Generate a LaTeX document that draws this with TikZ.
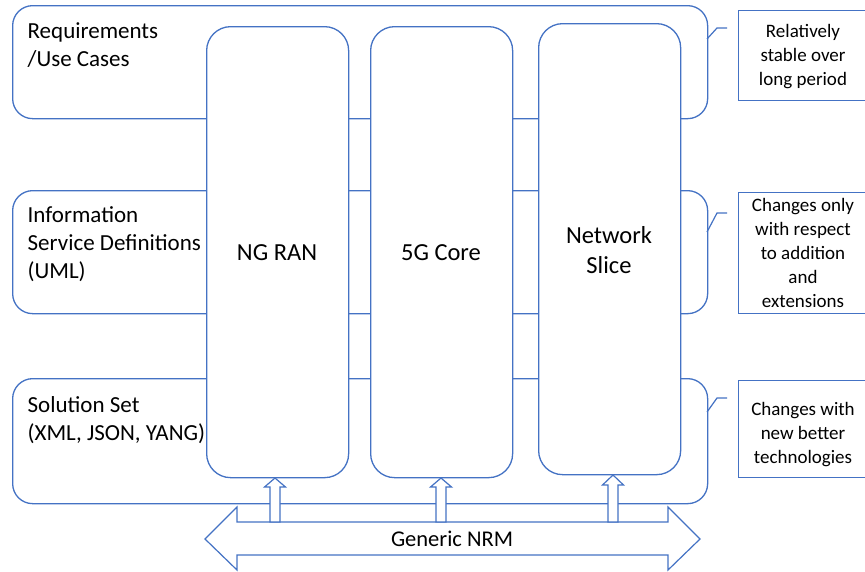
\documentclass[tikz,border=0pt]{standalone}
\usepackage{fontspec}
\setmainfont{Carlito}
\definecolor{ln}{HTML}{4472C4}
\begin{document}
\begin{tikzpicture}[x=1pt,y=-1pt,line width=1.3pt,
  layer/.style={draw=ln,rounded corners=20pt,inner sep=0pt,anchor=north west},
  col/.style={draw=ln,fill=white,rounded corners=24pt,inner sep=0pt,anchor=north west},
  rbox/.style={draw=ln,fill=white,inner sep=0pt,anchor=north west},
  ltext/.style={anchor=north west,inner sep=0pt,align=left,font=\fontsize{23}{28}\selectfont},
  ctext/.style={inner sep=0pt,align=center,font=\fontsize{24.5}{30}\selectfont},
  rtext/.style={inner sep=0pt,align=center,font=\fontsize{19}{24}\selectfont},
  callout/.style={draw=ln,line width=1.2pt},
  blockarrow/.style={draw=ln,fill=white,line width=1.2pt,line join=miter}]
\useasboundingbox (0,0) rectangle (865,571);
\fill[white] (0,0) rectangle (865,571);
% layer boxes
\node[layer,minimum width=695pt,minimum height=113pt] (req) at (12,5) {};
\node[layer,minimum width=695pt,minimum height=123pt] (info) at (12,190) {};
\node[layer,minimum width=695pt,minimum height=125pt] (sol) at (12,378) {};
\node[ltext] (reqt) at (27,22) {Requirements\\/Use Cases};
\node[ltext] (infot) at (27,206) {Information\\Service Definitions\\(UML)};
\node[ltext] (solt) at (27,396) {Solution Set\\(XML, JSON, YANG)};
% columns
\node[col,minimum width=142pt,minimum height=451pt] (ran) at (206,26) {};
\node[col,minimum width=142pt,minimum height=451pt] (core) at (370,26) {};
\node[col,minimum width=142pt,minimum height=451pt] (slice) at (538,23) {};
\node[ctext] (rant) at (277,253) {NG RAN};
\node[ctext] (coret) at (441,253) {5G Core};
\node[ctext] (slicet) at (609,250.5) {Network\\Slice};
% right boxes
\node[rbox,minimum width=130pt,minimum height=90pt] (r1) at (738,10) {};
\node[rbox,minimum width=130pt,minimum height=121pt] (r2) at (738,192) {};
\node[rbox,minimum width=130pt,minimum height=97pt] (r3) at (738,380) {};
\node[rtext] (r1t) at (803,57) {Relatively\\stable over\\long period};
\node[rtext] (r2t) at (803,252.5) {Changes only\\with respect\\to addition\\and\\extensions};
\node[rtext] (r3t) at (803,435) {Changes with\\new better\\technologies};
% callouts
\coordinate (c1) at (707,39); \coordinate (d1) at (717,28); \coordinate (e1) at (727,28);
\coordinate (c2) at (707,232); \coordinate (d2) at (717,213); \coordinate (e2) at (727,213);
\coordinate (c3) at (707,412); \coordinate (d3) at (717,398); \coordinate (e3) at (727,398);
\draw[callout] (c1) -- (d1) -- (e1);
\draw[callout] (c2) -- (d2) -- (e2);
\draw[callout] (c3) -- (d3) -- (e3);
% generic NRM double arrow
\draw[blockarrow] (205,539) -- (237,507) -- (237,522) -- (668,522) -- (668,507)
  -- (700,539) -- (668,570) -- (668,555) -- (237,555) -- (237,570) -- cycle;
\node[inner sep=0pt,font=\fontsize{22.5}{27}\selectfont] (nrm) at (452,539) {Generic NRM};
% up arrows
\draw[blockarrow] (270,522) -- (270,487) -- (264.5,487) -- (275,478) -- (285.5,487) -- (280,487) -- (280,522) -- cycle;
\draw[blockarrow] (436,522) -- (436,487) -- (430.5,487) -- (441,478) -- (451.5,487) -- (446,487) -- (446,522) -- cycle;
\draw[blockarrow] (608,522) -- (608,485) -- (602.5,485) -- (613,475) -- (623.5,485) -- (618,485) -- (618,522) -- cycle;
\end{tikzpicture}
\end{document}
